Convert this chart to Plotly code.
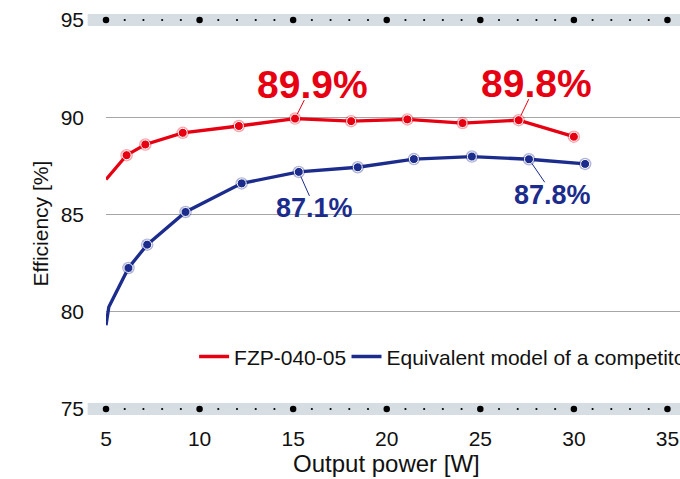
import plotly.graph_objects as go

# ---- data ----
red_name = "FZP-040-05"
red_x = [5.0, 6.1, 7.1, 9.1, 12.1, 15.1, 18.1, 21.1, 24.05, 27.05, 30.0]
red_y = [86.8, 88.05, 88.6, 89.2, 89.55, 89.93, 89.8, 89.89, 89.7, 89.85, 89.0]

blue_name = "Equivalent model of a competitor"
blue_x = [5.0, 5.15, 6.2, 7.2, 9.25, 12.25, 15.3, 18.45, 21.45, 24.55, 27.6, 30.6]
blue_y = [79.3, 80.25, 82.25, 83.45, 85.13, 86.6, 87.19, 87.43, 87.85, 87.98, 87.84, 87.6]

red_marker_start = 1
blue_marker_start = 2

y_ticks = [75, 80, 85, 90, 95]
x_major = [5, 10, 15, 20, 25, 30, 35]
x_minor = [v for v in range(5, 36) if v % 5 != 0]

callouts = [  # (x, y, text, color, size, ax, ay)
    (15.1, 89.93, "89.9%", "red", 39, 17.5, -35),
    (27.05, 89.85, "89.8%", "red", 39, 18, -37.5),
    (15.3, 87.19, "87.1%", "blue", 27, 16, 36),
    (27.6, 87.84, "87.8%", "blue", 27, 24, 35),
]

RED = "#e60012"
BLUE = "#1c2c8c"
RED_HALO = "rgba(230,0,18,0.35)"
BLUE_HALO = "rgba(28,44,140,0.35)"
BAND = "#d6dee4"
FONT = "Liberation Sans, Arial, sans-serif"

fig = go.Figure()

# halos under markers
fig.add_trace(go.Scatter(x=red_x[red_marker_start:], y=red_y[red_marker_start:], mode="markers",
                         marker=dict(size=12.5, color=RED_HALO), showlegend=False,
                         hoverinfo="skip", cliponaxis=False))
fig.add_trace(go.Scatter(x=blue_x[blue_marker_start:], y=blue_y[blue_marker_start:], mode="markers",
                         marker=dict(size=12.5, color=BLUE_HALO), showlegend=False,
                         hoverinfo="skip", cliponaxis=False))

# lines
fig.add_trace(go.Scatter(x=red_x, y=red_y, mode="lines", name=red_name, legend="legend",
                         line=dict(color=RED, width=3.3), cliponaxis=False))
fig.add_trace(go.Scatter(x=blue_x, y=blue_y, mode="lines", name=blue_name, legend="legend2",
                         line=dict(color=BLUE, width=3.3), cliponaxis=False))

# markers
fig.add_trace(go.Scatter(x=red_x[red_marker_start:], y=red_y[red_marker_start:], mode="markers",
                         marker=dict(size=9, color=RED, line=dict(color="white", width=1)),
                         showlegend=False, cliponaxis=False))
fig.add_trace(go.Scatter(x=blue_x[blue_marker_start:], y=blue_y[blue_marker_start:], mode="markers",
                         marker=dict(size=9, color=BLUE, line=dict(color="white", width=1)),
                         showlegend=False, cliponaxis=False))

# decorative band dots
for yv in (y_ticks[0], y_ticks[-1]):
    fig.add_trace(go.Scatter(x=x_minor, y=[yv] * len(x_minor), mode="markers",
                             marker=dict(size=2.2, color="black"), showlegend=False,
                             hoverinfo="skip", cliponaxis=False))
    fig.add_trace(go.Scatter(x=x_major, y=[yv] * len(x_major), mode="markers",
                             marker=dict(size=6.5, color="black"), showlegend=False,
                             hoverinfo="skip", cliponaxis=False))

# bands
for py in (0, 1):
    fig.add_shape(type="line", xref="paper", yref="paper", x0=-0.032, x1=1, y0=py, y1=py,
                  line=dict(color=BAND, width=12), layer="below")

for (x, y, text, c, size, ax, ay) in callouts:
    col = RED if c == "red" else BLUE
    fig.add_annotation(x=x, y=y, text=f"<b>{text}</b>", showarrow=True, arrowhead=0,
                       arrowwidth=1, arrowcolor=col, ax=ax, ay=ay, standoff=5,
                       height=size * 0.78,
                       font=dict(size=size, color=col, family=FONT))

fig.add_annotation(x=20, xref="x", y=-0.141, yref="paper", text="Output power [W]",
                   showarrow=False, yanchor="middle", font=dict(size=24, color="#111", family=FONT))
fig.add_annotation(x=-0.114, xref="paper", y=0.476, yref="paper", text="Efficiency [%]",
                   showarrow=False, textangle=-90, xanchor="center", yanchor="middle",
                   font=dict(size=21, color="#111", family=FONT))

legend_common = dict(orientation="h", xanchor="left", y=0.134, yanchor="middle",
                     font=dict(size=21, family=FONT, color="#111"),
                     bgcolor="rgba(0,0,0,0)", itemclick=False)

fig.update_layout(
    width=680, height=479,
    margin=dict(l=106, r=0, t=20, b=70, autoexpand=False),
    paper_bgcolor="white", plot_bgcolor="white",
    font=dict(family=FONT, color="#111"),
    showlegend=True,
    legend=dict(x=0.1535, **legend_common),
    legend2=dict(x=0.419, **legend_common),
    xaxis=dict(range=[5, 35.67], tickvals=x_major, showgrid=False, zeroline=False,
               showline=False, ticks="", ticklabelstandoff=15,
               tickfont=dict(size=21, family=FONT, color="#111")),
    yaxis=dict(range=[75, 95], tickvals=y_ticks, showgrid=True, gridcolor="#a6a6a6",
               gridwidth=1, zeroline=False, showline=False, ticks="", ticklabelstandoff=21,
               tickfont=dict(size=21, family=FONT, color="#111")),
)

fig.write_html("out.html")
